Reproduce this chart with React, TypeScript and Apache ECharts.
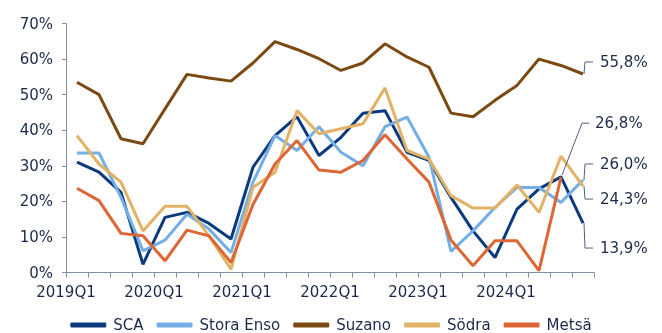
import React, { useEffect, useRef } from "react";
import * as echarts from "echarts";

const categories = [
  "2019Q1", "2019Q2", "2019Q3", "2019Q4",
  "2020Q1", "2020Q2", "2020Q3", "2020Q4",
  "2021Q1", "2021Q2", "2021Q3", "2021Q4",
  "2022Q1", "2022Q2", "2022Q3", "2022Q4",
  "2023Q1", "2023Q2", "2023Q3", "2023Q4",
  "2024Q1", "2024Q2", "2024Q3", "2024Q4",
];

const sca = [31.0, 28.2, 22.5, 2.3, 15.5, 16.9, 13.8, 9.4, 29.6, 38.5, 43.8, 32.9, 38.0, 44.8, 45.5, 33.8, 31.5, 21.1, 11.7, 4.2, 17.8, 23.5, 26.9, 13.9];
const storaEnso = [33.6, 33.6, 21.1, 6.1, 9.1, 16.4, 12.2, 5.6, 25.4, 38.5, 34.3, 41.0, 33.8, 30.0, 41.0, 43.7, 32.4, 5.9, 11.7, 18.3, 23.9, 23.9, 19.7, 26.0];
const suzano = [53.5, 50.0, 37.6, 36.2, 46.0, 55.7, 54.7, 53.8, 58.9, 64.9, 62.7, 60.1, 56.8, 58.9, 64.3, 60.6, 57.7, 44.8, 43.8, 48.4, 52.6, 60.0, 58.2, 55.8];
const sodra = [38.5, 30.5, 25.4, 11.7, 18.6, 18.6, 10.3, 0.9, 23.9, 28.2, 45.5, 39.0, 40.4, 41.8, 51.9, 34.3, 31.9, 21.6, 18.1, 18.1, 24.6, 16.9, 32.7, 24.3];
const metsa = [23.7, 20.2, 11.0, 10.3, 3.3, 11.9, 10.3, 2.8, 19.1, 30.5, 37.1, 28.8, 28.2, 31.5, 38.7, 31.9, 25.4, 9.1, 1.9, 8.9, 8.9, 0.5, 26.8];

const seriesNames = ["SCA", "Stora Enso", "Suzano", "Södra", "Metsä"];
const seriesData = [sca, storaEnso, suzano, sodra, metsa];
const colors = ["#0b3a7e", "#74aee6", "#7b4a12", "#e2b266", "#dc6634"];

const FONT = "DejaVu Sans";
const TEXT = "#1b2a4a";
const AXIS = "#7f8fab";
const LEADER = "#4f607e";

// end labels: series index, label text, label offset from end point (dy)
const endLabels = [
  { s: 2, text: "55,8%", dy: -12, diag: false },
  { s: 4, text: "26,8%", dy: -54, diag: true },
  { s: 1, text: "26,0%", dy: -16, diag: false },
  { s: 3, text: "24,3%", dy: 13, diag: false },
  { s: 0, text: "13,9%", dy: 25, diag: false },
];

export default function App() {
  const ref = useRef<HTMLDivElement>(null);
  useEffect(() => {
    if (!ref.current) return;
    const chart = echarts.init(ref.current, undefined, { renderer: "svg" });
    chart.setOption({
      animation: false,
      grid: { left: 66, right: 68, top: 23.5, bottom: 60.5 },
      legend: {
        data: seriesNames.map((n) => ({ name: n, icon: "roundRect" })),
        top: 317,
        left: "center",
        padding: 0,
        itemWidth: 36,
        itemHeight: 5,
        itemGap: 13,
        textStyle: {
          fontFamily: FONT,
          fontSize: 15,
          color: TEXT,
          lineHeight: 16,
          padding: [0, 0, 0, 2],
        },
      },
      xAxis: {
        type: "category",
        data: categories,
        boundaryGap: true,
        axisLine: { lineStyle: { color: AXIS, width: 1 } },
        axisTick: { show: true, interval: 0, length: 5, lineStyle: { color: AXIS } },
        axisLabel: {
          interval: 3,
          margin: 12,
          fontFamily: FONT,
          fontSize: 15,
          color: TEXT,
          padding: [0, 22, 0, 0],
        },
        splitLine: { show: false },
      },
      yAxis: {
        type: "value",
        min: 0,
        max: 70,
        interval: 10,
        axisLine: { show: true, lineStyle: { color: AXIS, width: 1 } },
        axisTick: { show: true, length: 4, lineStyle: { color: AXIS } },
        axisLabel: {
          formatter: "{value}%",
          margin: 13,
          fontFamily: FONT,
          fontSize: 15,
          color: TEXT,
        },
        splitLine: { show: false },
      },
      series: seriesNames.map((name, i) => ({
        name,
        type: "line",
        data: seriesData[i],
        showSymbol: false,
        symbol: "none",
        lineStyle: { color: colors[i], width: 3 },
        itemStyle: { color: colors[i] },
      })),
    });

    const graphics: any[] = [];
    endLabels.forEach((lab) => {
      const data = seriesData[lab.s];
      const idx = data.length - 1;
      const p = chart.convertToPixel({ gridIndex: 0 }, [categories[idx], data[idx]]) as number[];
      const [x, y] = p;
      const ly = y + lab.dy;
      let pts: number[][];
      let tx: number;
      if (lab.diag) {
        pts = [[x + 1, y - 2], [x + 21, ly], [x + 28, ly]];
        tx = x + 34;
      } else {
        pts = [[x + 1, y], [x + 2, ly], [x + 10, ly]];
        tx = x + 17;
      }
      graphics.push({
        type: "polyline",
        shape: { points: pts },
        style: { stroke: LEADER, lineWidth: 1, fill: null },
        z: 10,
      });
      graphics.push({
        type: "text",
        x: tx,
        y: ly,
        style: {
          text: lab.text,
          fontFamily: FONT,
          fontSize: 15,
          fill: TEXT,
          verticalAlign: "middle",
          align: "left",
        },
        z: 10,
      });
    });
    chart.setOption({ graphic: graphics });

    return () => chart.dispose();
  }, []);
  return (
    <div
      ref={ref}
      style={{ position: "fixed", left: 0, top: 0, width: 662, height: 333 }}
    />
  );
}
